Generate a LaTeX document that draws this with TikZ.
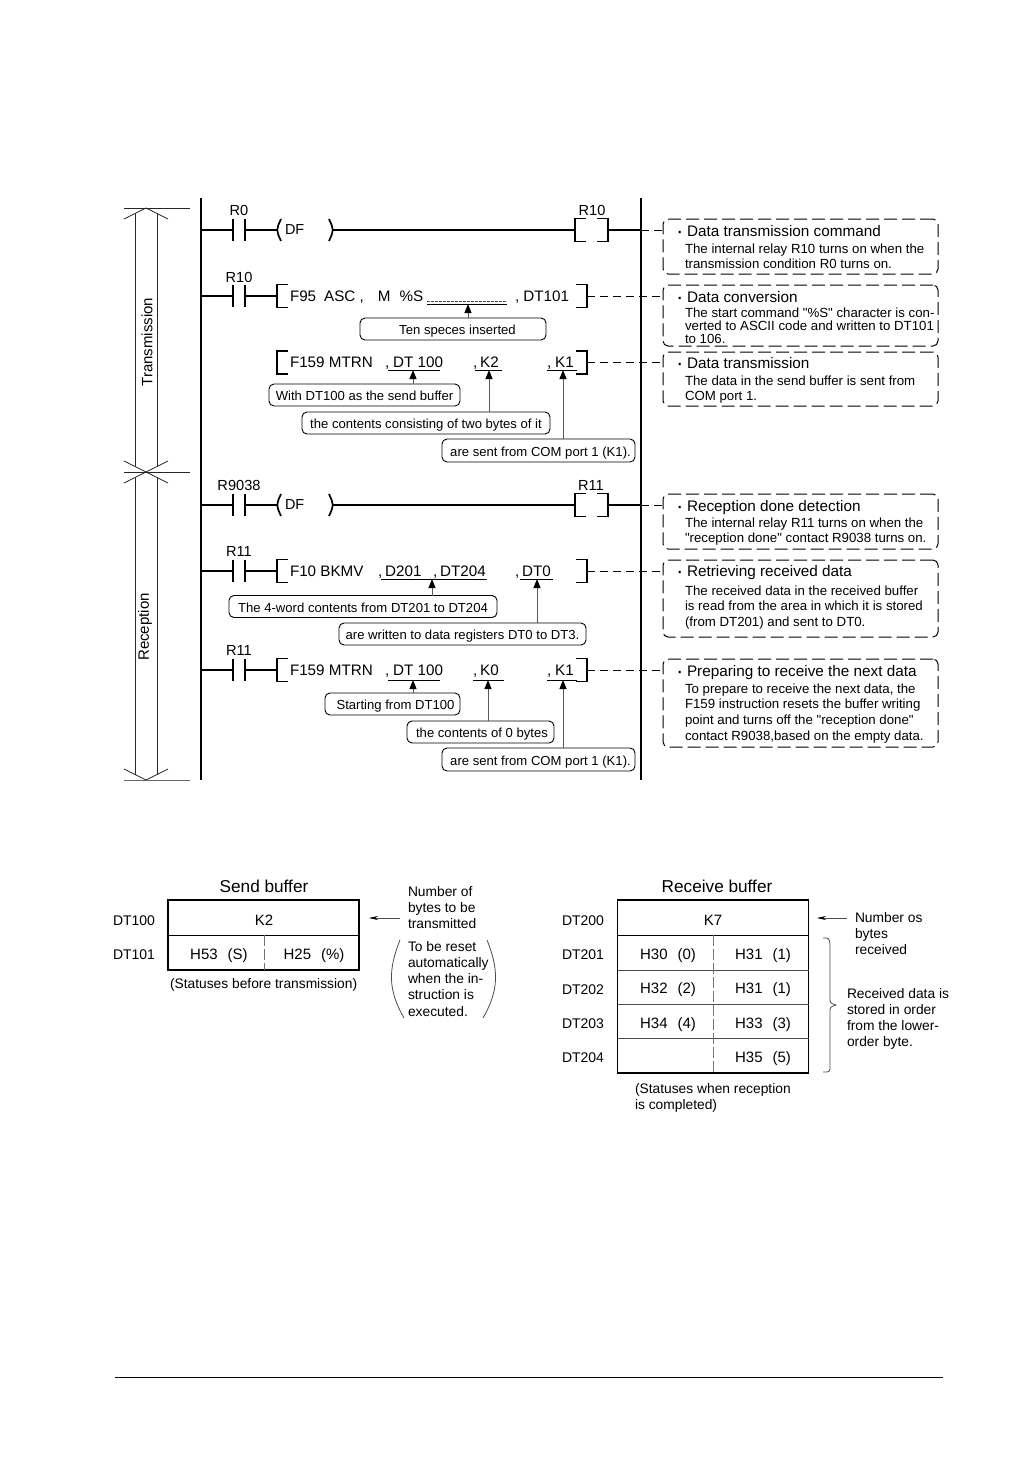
\documentclass[tikz,border=0pt]{standalone}
\usepackage{fontspec}
\setmainfont[Ligatures=TeXOff]{Liberation Sans}
\usetikzlibrary{arrows.meta}

\newcommand{\notedot}{\raisebox{-2.3pt}{\fontsize{22}{22}\selectfont ·}\hspace{3.7pt}}

\begin{document}
\begin{tikzpicture}[
  x=1pt, y=-1pt,
  every node/.style={inner sep=0pt, outer sep=0pt},
  rail/.style={rectangle, fill=black, minimum width=2.6pt, minimum height=582pt},
  wire/.style={line width=1.7pt},
  thinline/.style={line width=0.8pt, black!85},
  contact/.style={rectangle, minimum width=12pt, minimum height=22pt},
  coil/.style={rectangle, minimum width=33pt, minimum height=23pt},
  funcblock/.style={rectangle, minimum width=310pt, minimum height=23pt},
  dfblock/.style={rectangle, minimum width=56pt, minimum height=22pt, inner xsep=8pt, text width=40pt, align=left, font=\fontsize{14.5}{16}\selectfont},
  relay/.style={anchor=base, yshift=-5pt, font=\fontsize{14.6}{16}\selectfont},
  instr/.style={anchor=base west, yshift=-5pt, font=\fontsize{15.2}{16}\selectfont},
  underbar/.style={line width=0.9pt},
  callout/.style={rectangle, draw, rounded corners=5pt, line width=0.9pt, text height=11pt, text depth=0pt, font=\fontsize{13.1}{15}\selectfont, fill=white},
  callarrow/.style={-{Stealth[length=9pt, width=7pt, inset=0pt, black]}, line width=0.9pt, black!65},
  notebox/.style={rectangle, draw, rounded corners=5pt, line width=1pt, dash pattern=on 13pt off 5pt, minimum width=275pt},
  notetitle/.style={anchor=base west, yshift=-5pt, font=\fontsize{15.3}{17}\selectfont},
  notebody/.style={anchor=north west, align=left, font=\fontsize{13.25}{15.7}\selectfont},
  dashlink/.style={line width=0.9pt, dash pattern=on 8pt off 5pt},
  regframe/.style={rectangle, draw, line width=1.3pt, minimum width=191pt},
  regtitle/.style={anchor=base, yshift=-6pt, font=\fontsize{17.2}{19}\selectfont},
  regname/.style={anchor=base west, yshift=-5pt, font=\fontsize{14}{16}\selectfont},
  regcell/.style={anchor=base, yshift=-5pt, font=\fontsize{15}{17}\selectfont},
  regnote/.style={anchor=north west, align=left, font=\fontsize{13.8}{16.3}\selectfont},
  regarrow/.style={-{Stealth[length=9pt, width=4pt, black]}, line width=0.6pt, black!70},
  regsplit/.style={line width=0.9pt, black!55, dash pattern=on 11pt off 3pt},
  regline/.style={line width=0.8pt, black!70},
]
  \useasboundingbox (0,0) rectangle (1032,1458);

  % rails
  \node[rail] (leftrail) at (201,489) {};
  \node[rail] (rightrail) at (641,489) {};

  % dimension lines on the left
  \coordinate (toptip) at (146,208);
  \coordinate (midtip) at (146,472);
  \coordinate (bottip) at (146,780);
  \draw[thinline] (124,208) -- (190,208);
  \draw[thinline] (124,472) -- (190,472);
  \draw[thinline, black!60] (124,780) -- (190,780);
  \draw[thinline] (124,219) -- (toptip) -- (168,219);
  \draw[thinline] (124,461) -- (midtip) -- (168,461);
  \draw[thinline] (124,483) -- (midtip) -- (168,483);
  \draw[thinline] (124,769) -- (bottip) -- (168,769);
  \draw[thinline] (135,214) -- (135,466) (157,214) -- (157,466);
  \draw[thinline] (135,478) -- (135,775) (157,478) -- (157,775);
  \node[rotate=90, font=\fontsize{15}{17}\selectfont] (transm) at (147,342) {Transmission};
  \node[rotate=90, font=\fontsize{15}{17}\selectfont] (recept) at (145,627) {Reception};

  % rung 1
  \node[relay] (lr0) at (239,210) {R0};
  \node[contact] (c1) at (239,230) {};
  \node[dfblock] (df1) at (305,230) {DF};
  \node[relay] (lr10) at (592,210) {R10};
  \node[coil] (co1) at (591.5,230) {};
  \draw[wire] (c1.west -| leftrail.center) -- (c1.west);
  \draw[wire] (c1.east) -- (df1.west);
  \draw[wire] (df1.east) -- (co1.west);
  \draw[wire] (co1.east) -- (co1.east -| rightrail.center);

  % rung 2
  \node[relay] (lr10b) at (239,277) {R10};
  \node[contact] (c2) at (239,296) {};
  \node[funcblock] (f2) at (432,296) {};
  \node[instr] (t2a) at (290,296) {F95\hspace{8pt}ASC ,\hspace{14pt}M\hspace{9pt}\%S};
  \node[instr] (t2b) at (515,296) {, DT101};
  \draw[underbar, dash pattern=on 3pt off 1pt, black!70] (427,301.5) -- (507,301.5);
  \draw[underbar] (427,304) -- (507,304);
  \node[callout, minimum width=186pt, minimum height=22pt] (ten) at (453,329) {\hspace{9pt}Ten speces inserted};
  \coordinate (tip2) at (468,304);
  \draw[wire] (c2.west -| leftrail.center) -- (c2.west);
  \draw[wire] (c2.east) -- (f2.west);
  \draw[callarrow] (ten.north -| tip2) -- (tip2);

  % rung 3
  \node[funcblock] (f3) at (432,362.5) {};
  \node[instr] (t3a) at (290,362) {F159 MTRN};
  \node[instr] (t3b) at (385,362) {,\hspace{4pt}DT 100};
  \node[instr] (t3c) at (473,362) {,\hspace{3pt}K2};
  \node[instr] (t3d) at (547,362) {,\hspace{4pt}K1};
  \draw[underbar] (388,370) -- (440,370);
  \draw[underbar] (475,370) -- (502,370);
  \draw[underbar] (547,370) -- (577,370);
  \node[callout, minimum width=191pt, minimum height=22pt] (withdt) at (364.5,395) {With DT100 as the send buffer};
  \node[callout, minimum width=248pt, minimum height=22pt] (twobytes) at (426,423) {the contents consisting of two bytes of it};
  \node[callout, minimum width=193pt, minimum height=23pt] (comk1) at (538.5,450.5) {\hspace{4pt}are sent from COM port 1 (K1).};
  \coordinate (tip3a) at (413,370);
  \coordinate (tip3b) at (489,370);
  \coordinate (tip3c) at (563,370);
  \draw[callarrow] (withdt.north -| tip3a) -- (tip3a);
  \draw[callarrow] (twobytes.north -| tip3b) -- (tip3b);
  \draw[callarrow] (comk1.north -| tip3c) -- (tip3c);

  % rung 4
  \node[relay] (lr9038) at (239,485) {R9038};
  \node[contact] (c4) at (239,505) {};
  \node[dfblock] (df4) at (305,505) {DF};
  \node[relay] (lr11) at (591,485) {R11};
  \node[coil] (co4) at (591.5,505) {};
  \draw[wire] (c4.west -| leftrail.center) -- (c4.west);
  \draw[wire] (c4.east) -- (df4.west);
  \draw[wire] (df4.east) -- (co4.west);
  \draw[wire] (co4.east) -- (co4.east -| rightrail.center);

  % rung 5
  \node[relay] (lr11b) at (239,551) {R11};
  \node[contact] (c5) at (239,571) {};
  \node[funcblock] (f5) at (432,571) {};
  \node[instr] (t5a) at (290,571) {F10 BKMV};
  \node[instr] (t5b) at (378,571) {,\hspace{3pt}D201};
  \node[instr] (t5c) at (433,571) {,\hspace{3pt}DT204};
  \node[instr] (t5d) at (515,571) {,\hspace{3pt}DT0};
  \draw[underbar] (381,579) -- (487,579);
  \draw[underbar] (520,579) -- (553,579);
  \node[callout, minimum width=268pt, minimum height=22pt] (fourword) at (363,606.5) {The 4-word contents from DT201 to DT204};
  \node[callout, minimum width=247pt, minimum height=22pt] (written) at (462.5,634) {are written to data registers DT0 to DT3.};
  \coordinate (tip5a) at (432,579);
  \coordinate (tip5b) at (537,579);
  \draw[wire] (c5.west -| leftrail.center) -- (c5.west);
  \draw[wire] (c5.east) -- (f5.west);
  \draw[callarrow] (fourword.north -| tip5a) -- (tip5a);
  \draw[callarrow] (written.north -| tip5b) -- (tip5b);

  % rung 6
  \node[relay] (lr11c) at (239,650) {R11};
  \node[contact] (c6) at (239,670) {};
  \node[funcblock] (f6) at (432,670) {};
  \node[instr] (t6a) at (290,670) {F159 MTRN};
  \node[instr] (t6b) at (385,670) {,\hspace{4pt}DT 100};
  \node[instr] (t6c) at (473,670) {,\hspace{3pt}K0};
  \node[instr] (t6d) at (547,670) {,\hspace{4pt}K1};
  \draw[underbar] (388,680) -- (440,680);
  \draw[underbar] (473,680) -- (504,680);
  \draw[underbar] (547,680) -- (577,680);
  \node[callout, minimum width=135pt, minimum height=22pt] (startdt) at (392.5,704) {\hspace{6pt}Starting from DT100};
  \node[callout, minimum width=147pt, minimum height=22pt] (zerobytes) at (480.5,732) {\hspace{3pt}the contents of 0 bytes};
  \node[callout, minimum width=193pt, minimum height=23pt] (comk1b) at (538.5,759.5) {\hspace{4pt}are sent from COM port 1 (K1).};
  \coordinate (tip6a) at (413,680);
  \coordinate (tip6b) at (488,680);
  \coordinate (tip6c) at (563,680);
  \draw[wire] (c6.west -| leftrail.center) -- (c6.west);
  \draw[wire] (c6.east) -- (f6.west);
  \draw[callarrow] (startdt.north -| tip6a) -- (tip6a);
  \draw[callarrow] (zerobytes.north -| tip6b) -- (tip6b);
  \draw[callarrow] (comk1b.north -| tip6c) -- (tip6c);

  % contact bars, parentheses and brackets
  \foreach \cname in {c1,c2,c4,c5,c6}
    \draw[wire] (\cname.north west) -- (\cname.south west) (\cname.north east) -- (\cname.south east);
  \foreach \dname in {df1,df4} {
    \draw[wire] ([xshift=4pt]\dname.north west) .. controls ([xshift=-1pt]\dname.west) .. ([xshift=4pt]\dname.south west);
    \draw[wire] ([xshift=-4pt]\dname.north east) .. controls ([xshift=1pt]\dname.east) .. ([xshift=-4pt]\dname.south east);
  }
  \foreach \bname in {co1,co4,f2,f3,f5,f6} {
    \draw[wire] ([xshift=11pt]\bname.north west) -- (\bname.north west) -- (\bname.south west) -- ([xshift=11pt]\bname.south west);
    \draw[wire] ([xshift=-11pt]\bname.north east) -- (\bname.north east) -- (\bname.south east) -- ([xshift=-11pt]\bname.south east);
  }

  % notes on the right
  \node[notebox, minimum height=55pt] (note1) at (800.5,246.5) {};
  \node[notetitle] (note1t) at (676,231) {\notedot Data transmission command};
  \node[notebody, font=\fontsize{13.25}{15}\selectfont] (note1b) at (685,243.5) {The internal relay R10 turns on when the\\transmission condition R0 turns on.};
  \node[notebox, minimum height=61pt] (note2) at (800.5,315.5) {};
  \node[notetitle] (note2t) at (676,297) {\notedot Data conversion};
  \node[notebody, font=\fontsize{13.25}{13}\selectfont] (note2b) at (685,307.5) {The start command "\%S" character is con-\\verted to ASCII code and written to DT101\\to 106.};
  \node[notebox, minimum height=54pt] (note3) at (800.5,379) {};
  \node[notetitle] (note3t) at (676,363) {\notedot Data transmission};
  \node[notebody] (note3b) at (685,375.5) {The data in the send buffer is sent from\\COM port 1.};
  \node[notebox, minimum height=55pt] (note4) at (800.5,521.5) {};
  \node[notetitle] (note4t) at (676,506) {\notedot Reception done detection};
  \node[notebody, font=\fontsize{13.25}{15}\selectfont] (note4b) at (685,517.5) {The internal relay R11 turns on when the\\"reception done" contact R9038 turns on.};
  \node[notebox, minimum height=77pt] (note5) at (800.5,598.5) {};
  \node[notetitle] (note5t) at (676,571) {\notedot Retrieving received data};
  \node[notebody] (note5b) at (685,585.5) {The received data in the received buffer\\is read from the area in which it is stored\\(from DT201) and sent to DT0.};
  \node[notebox, minimum height=88pt] (note6) at (800.5,703) {};
  \node[notetitle] (note6t) at (676,671) {\notedot Preparing to receive the next data};
  \node[notebody] (note6b) at (685,683.5) {To prepare to receive the next data, the\\F159 instruction resets the buffer writing\\point and turns off the "reception done"\\contact R9038,based on the empty data.};
  \draw[dashlink] (co1.east -| rightrail.center) -- (co1.east -| note1.west);
  \draw[dashlink] (f2.east) -- (f2.east -| note2.west);
  \draw[dashlink] (f3.east) -- (f3.east -| note3.west);
  \draw[dashlink] (co4.east -| rightrail.center) -- (co4.east -| note4.west);
  \draw[dashlink] (f5.east) -- (f5.east -| note5.west);
  \draw[dashlink] (f6.east) -- (f6.east -| note6.west);

  % send buffer
  \node[regtitle] (sendt) at (264,886) {Send buffer};
  \node[regframe, minimum height=70pt] (sendbuf) at (263.5,935) {};
  \coordinate (sendmid) at (264,935);
  \draw[regline, black] (sendbuf.west |- sendmid) -- (sendbuf.east |- sendmid);
  \draw[regsplit] (sendmid) -- (sendmid |- sendbuf.south);
  \node[regname] (dt100) at (113,920) {DT100};
  \node[regname] (dt101) at (113,954) {DT101};
  \node[regcell] (k2) at (264,920) {K2};
  \node[regcell] (h53) at (219,954) {H53\hspace{10pt}(S)};
  \node[regcell] (h25) at (314,954) {H25\hspace{10pt}(\%)};
  \node[regname, font=\fontsize{13.8}{16}\selectfont] (sendst) at (170,983) {(Statuses before transmission)};
  \node[regnote] (sendn1) at (408,886) {Number of\\bytes to be\\transmitted};
  \node[regnote] (sendn2) at (408,941) {To be reset\\automatically\\when the in-\\struction is\\executed.};
  \coordinate (sendn1a) at (400,918);
  \coordinate (sendn1b) at (369,918);
  \draw[regarrow] (sendn1a) -- (sendn1b);
  \draw[regline] (400,940) .. controls (388,970) and (388,990) .. (404,1018);
  \draw[regline] (487,940) .. controls (499,970) and (499,990) .. (483,1018);

  % receive buffer
  \node[regtitle] (recvt) at (717,886) {Receive buffer};
  \node[regframe, minimum height=173pt] (recvbuf) at (713,986.5) {};
  \coordinate (recv1) at (713,935);
  \coordinate (recv2) at (713,970);
  \coordinate (recv3) at (713,1004);
  \coordinate (recv4) at (713,1038);
  \draw[regline, black] (recvbuf.west |- recv1) -- (recvbuf.east |- recv1);
  \draw[regline] (recvbuf.west |- recv2) -- (recvbuf.east |- recv2);
  \draw[regline] (recvbuf.west |- recv3) -- (recvbuf.east |- recv3);
  \draw[regline] (recvbuf.west |- recv4) -- (recvbuf.east |- recv4);
  \draw[regsplit] (recv1) -- (recv1 |- recvbuf.south);
  \node[regname] (dt200) at (562,920) {DT200};
  \node[regname] (dt201) at (562,954) {DT201};
  \node[regname] (dt202) at (562,989) {DT202};
  \node[regname] (dt203) at (562,1023) {DT203};
  \node[regname] (dt204) at (562,1057) {DT204};
  \node[regcell] (k7) at (713,920) {K7};
  \node[regcell] (h30) at (668,954) {H30\hspace{10pt}(0)};
  \node[regcell] (h31) at (763,954) {H31\hspace{10pt}(1)};
  \node[regcell] (h32) at (668,988) {H32\hspace{10pt}(2)};
  \node[regcell] (h31b) at (763,988) {H31\hspace{10pt}(1)};
  \node[regcell] (h34) at (668,1023) {H34\hspace{10pt}(4)};
  \node[regcell] (h33) at (763,1023) {H33\hspace{10pt}(3)};
  \node[regcell] (h35) at (763,1057) {H35\hspace{10pt}(5)};
  \node[regnote] (recvst) at (635,1083) {(Statuses when reception\\is completed)};
  \node[regnote] (recvn1) at (855,912) {Number os\\bytes\\received};
  \node[regnote] (recvn2) at (847,988) {Received data is\\stored in order\\from the lower-\\order byte.};
  \coordinate (recvn1a) at (847,918);
  \coordinate (recvn1b) at (817,918);
  \draw[regarrow] (recvn1a) -- (recvn1b);
  \draw[regline] (823,938) .. controls (829,938) .. (830,944) -- (830,998) .. controls (830,1003) .. (836,1005) .. controls (830,1007) .. (830,1012) -- (830,1066) .. controls (830,1072) .. (823,1072);

  % page rule
  \coordinate (footl) at (115,1377);
  \coordinate (footr) at (943,1377);
  \draw[line width=0.8pt] (footl) -- (footr);
\end{tikzpicture}
\end{document}
